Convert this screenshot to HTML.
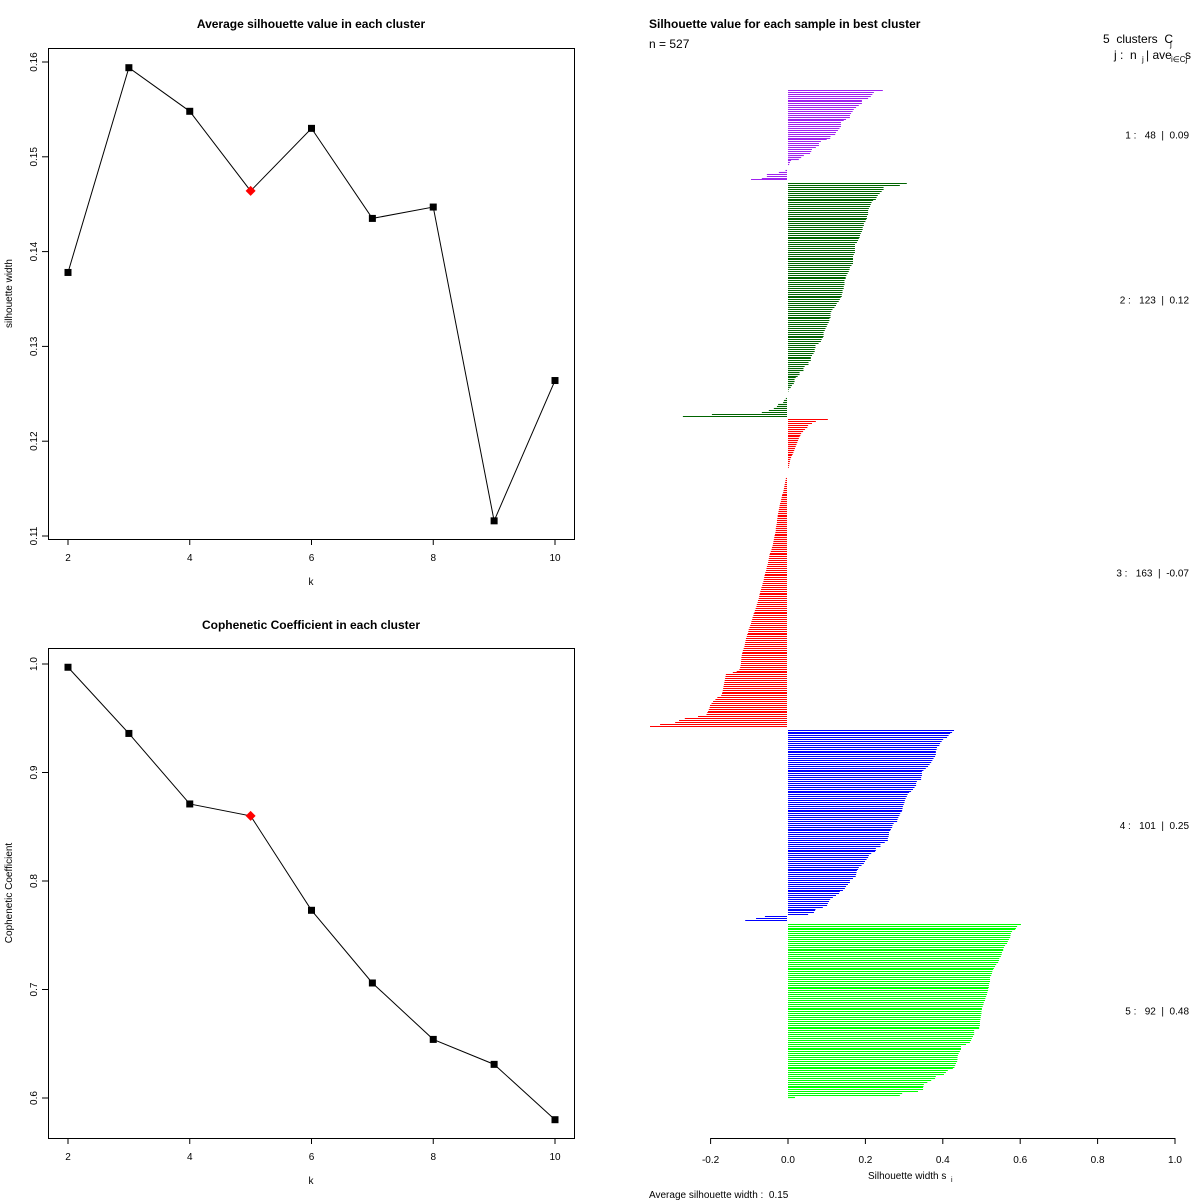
<!DOCTYPE html>
<html><head><meta charset="utf-8"><style>
body{margin:0;background:#fff}
svg{display:block;font-family:"Liberation Sans",Arial,sans-serif}
svg text{white-space:pre}
</style></head><body>
<svg id="chart" width="1200" height="1200" viewBox="0 0 1200 1200" xmlns="http://www.w3.org/2000/svg">
<g id="p1"></g>
<g id="p2"></g>
<g id="p3"></g>
</svg>
<script>
const kValues=[2,3,4,5,6,7,8,9,10];
const silhouetteAvg=[0.1378,0.1594,0.1548,0.1464,0.1530,0.1435,0.1447,0.1116,0.1264];
const copheneticVals=[0.997,0.936,0.871,0.860,0.773,0.706,0.654,0.631,0.580];
const bestK=5;
const xTicksK=[2,4,6,8,10];
const yTicksSil=[0.11,0.12,0.13,0.14,0.15,0.16];
const yTicksCoph=[0.6,0.7,0.8,0.9,1.0];
const silXTicks=[-0.2,0,0.2,0.4,0.6,0.8,1.0];
const clusterColors=["#a020f0","#006400","#ff0000","#0000ff","#00ff00"];
const clusterLabels=["1 :   48  |  0.09","2 :   123  |  0.12","3 :   163  |  -0.07","4 :   101  |  0.25","5 :   92  |  0.48"];
const cluster1=[.245,.222,.218,.214,.207,.191,.191,.191,.183,.176,.170,.167,.163,.160,.160,.150,.144,.137,.137,.137,.133,.129,.124,.122,.110,.109,.100,.085,.080,.080,.072,.062,.060,.057,.041,.034,.028,.008,.005,.003,0,0,-.004,-.021,-.052,-.052,-.065,-.093];
const cluster2=[.307,.289,.247,.247,.242,.237,.232,.229,.227,.220,.216,.214,.212,.209,.207,.207,.207,.204,.204,.202,.200,.196,.196,.193,.193,.191,.188,.186,.185,.183,.181,.178,.173,.173,.173,.173,.173,.170,.168,.168,.168,.168,.168,.164,.160,.159,.157,.154,.151,.149,.149,.146,.146,.146,.144,.144,.141,.141,.139,.139,.136,.134,.131,.126,.124,.120,.115,.112,.110,.110,.110,.107,.107,.105,.102,.100,.097,.095,.092,.092,.092,.090,.087,.085,.079,.071,.071,.069,.069,.066,.062,.059,.059,.059,.053,.053,.043,.040,.040,.030,.030,.025,.020,.017,.017,.015,.010,.007,.002,.001,0,0,0,-.003,-.008,-.010,-.023,-.026,-.034,-.047,-.065,-.194,-.269];
const cluster3=[.103,.072,.062,.052,.050,.044,.039,.034,.032,.030,.028,.026,.024,.022,.020,.018,.016,.014,.012,.010,.008,.006,.005,.004,.003,.002,0,0,0,0,0,
-.003,-.004,-.005,-.006,-.007,-.008,-.009,-.010,-.012,-.013,
-.014,-.015,-.016,-.018,-.019,-.020,-.021,-.022,-.023,-.024,
-.024,-.025,-.026,-.026,-.027,-.028,-.029,-.029,-.030,-.031,
-.032,-.033,-.034,-.035,-.036,-.037,-.039,-.040,-.042,-.044,
-.045,-.046,-.047,-.048,-.049,-.050,-.052,-.053,-.054,-.056,
-.057,-.058,-.059,-.060,-.061,-.063,-.064,-.066,-.067,-.069,
-.070,-.071,-.072,-.073,-.075,-.076,-.078,-.079,-.081,-.083,
-.084,-.086,-.087,-.089,-.090,-.092,-.093,-.095,-.097,-.099,
-.100,-.101,-.103,-.104,-.106,-.107,-.108,-.109,-.110,-.112,
-.114,-.115,-.116,-.117,-.118,-.118,-.119,-.119,-.120,-.121,
-.123,-.130,-.140,-.158,-.159,-.160,-.161,-.162,-.163,-.164,
-.165,-.166,-.167,-.168,-.170,-.180,-.185,-.191,-.195,-.199,
-.200,-.202,-.204,-.206,-.208,-.230,-.264,-.279,-.289,-.328,-.354];
const cluster4=[.429,.424,.419,.415,.411,.401,.397,.393,.391,.385,.384,.382,.382,.382,.380,.376,.373,.370,.366,.362,.356,.350,.346,.346,.346,.344,.344,.333,.331,.331,.327,.323,.318,.313,.309,.307,.304,.302,.301,.299,.297,.296,.295,.294,.290,.288,.285,.283,.282,.273,.270,.269,.266,.264,.261,.261,.260,.258,.258,.250,.239,.239,.227,.227,.225,.215,.209,.207,.203,.199,.196,.190,.183,.181,.178,.177,.176,.175,.168,.160,.160,.155,.150,.147,.142,.134,.132,.124,.116,.109,.106,.103,.101,.090,.071,.070,.067,.052,-.057,-.080,-.108];
const cluster5=[.602,.592,.589,.587,.579,.576,.575,.574,.571,.568,.566,.561,.558,.556,.556,.553,.552,.550,.546,.545,.543,.538,.535,.532,.530,.528,.527,.525,.522,.522,.522,.520,.519,.519,.517,.517,.515,.514,.512,.510,.509,.506,.505,.503,.501,.501,.500,.500,.499,.498,.497,.496,.496,.496,.494,.494,.481,.481,.481,.478,.475,.473,.470,.460,.447,.447,.447,.444,.441,.439,.438,.438,.437,.434,.432,.430,.426,.413,.408,.403,.382,.380,.370,.360,.351,.350,.349,.349,.336,.295,.289,.018];
const clusters=[cluster1,cluster2,cluster3,cluster4,cluster5];

const NS="http://www.w3.org/2000/svg";
function mk(parent,tag,attrs,text){const e=document.createElementNS(NS,tag);for(const k in attrs)e.setAttribute(k,attrs[k]);if(text!==undefined)e.textContent=text;parent.appendChild(e);return e;}

function linePanel(g,vals,yTicks,yMin,yMax,box,title,yTitle,prefix,dec){
  const xs=k=>68+(k-2)*(555-68)/8;
  const ys=v=>box.yMinPx+(v-yMin)/(yMax-yMin)*(box.yMaxPx-box.yMinPx);
  let t=mk(g,'text',{x:311,y:box.titleY,'text-anchor':'middle','font-size':12,'font-weight':'bold'},title);
  
  
  let r=mk(g,'rect',{x:48.5,y:box.top+0.5,width:526,height:box.bottom-box.top,fill:'none',stroke:'#000','stroke-width':1});
  
  
  xTicksK.forEach(k=>{
    const l=mk(g,'line',{x1:xs(k),x2:xs(k),y1:box.bottom,y2:box.bottom+6,stroke:'#000'});
    
    
    const tx=mk(g,'text',{x:xs(k),y:box.bottom+22,'text-anchor':'middle','font-size':10},String(k));
    
    
  });
  yTicks.forEach(v=>{
    const y=ys(v);
    const l=mk(g,'line',{x1:42,x2:48,y1:y,y2:y,stroke:'#000'});
    
    
    const tx=mk(g,'text',{x:37,y:y,'text-anchor':'middle','font-size':10,transform:`rotate(-90 37 ${y})`},v.toFixed(dec));
    
    
  });
  const xl=mk(g,'text',{x:311,y:box.bottom+46,'text-anchor':'middle','font-size':10},'k');
  
  
  const cy=(box.top+box.bottom)/2;
  const yl=mk(g,'text',{x:12,y:cy,'text-anchor':'middle','font-size':10,transform:`rotate(-90 12 ${cy})`},yTitle);
  
  
  const pts=kValues.map((k,i)=>xs(k)+','+ys(vals[i])).join(' ');
  const pl=mk(g,'polyline',{points:pts,fill:'none',stroke:'#000','stroke-width':1});
  
  
  kValues.forEach((k,i)=>{
    const x=xs(k),y=ys(vals[i]);
    let m;
    if(k===bestK){
      m=mk(g,'polygon',{points:`${x},${y-5} ${x+5},${y} ${x},${y+5} ${x-5},${y}`,fill:'#ff0000'});
      
    }else{
      m=mk(g,'rect',{x:x-3.5,y:y-3.5,width:7,height:7,fill:'#000'});
      
    }
    
  });
}
linePanel(document.getElementById('p1'),silhouetteAvg,yTicksSil,0.11,0.16,{yMinPx:536,yMaxPx:62,top:48,bottom:539,titleY:28},'Average silhouette value in each cluster','silhouette width','sil',2);
linePanel(document.getElementById('p2'),copheneticVals,yTicksCoph,0.6,1.0,{yMinPx:1098,yMaxPx:664,top:648,bottom:1138,titleY:629},'Cophenetic Coefficient in each cluster','Cophenetic Coefficient','coph',1);
</script>
<script>
(function(){
  const g=document.getElementById('p3');
  const sx=v=>788+v*387;
  const total=clusters.reduce((a,c)=>a+c.length,0)+clusters.length-1;
  const y0=90,y1=1097,step=(y1-y0)/(total-1);
  let row=0;
  clusters.forEach((c,ci)=>{
    const grp=mk(g,'g',{});
    
    
    const startRow=row;
    c.forEach(v=>{
      const y=Math.round(y0+row*step)+0.5;
      if(v!==0){
        const x0=v>=0?sx(0):sx(0)-1;
        const b=mk(grp,'line',{x1:x0,x2:x0+v*387,y1:y,y2:y,stroke:clusterColors[ci],'stroke-width':1.1});
        
        
      }
      row++;
    });
    const midY=y0+((startRow+row-1)/2)*step;
    const lab=mk(g,'text',{x:1189,y:midY+4,'text-anchor':'end','font-size':10},clusterLabels[ci]);
    
    
    row++;
  });
  const ax=mk(g,'line',{x1:sx(-0.2),x2:sx(1.0),y1:1138.5,y2:1138.5,stroke:'#000'});
  
  
  silXTicks.forEach(v=>{
    const t=mk(g,'line',{x1:sx(v),x2:sx(v),y1:1138,y2:1144,stroke:'#000'});
    
    
    const l=mk(g,'text',{x:sx(v),y:1163,'text-anchor':'middle','font-size':10},v.toFixed(1));
    
    
  });
  const texts=[
    ['silhouette-title',649,28,'start',12,'bold','Silhouette value for each sample in best cluster'],
    ['sample-count',649,48,'start',12,'normal','n = 527'],
    ['average-silhouette-width',649,1198,'start',10,'normal','Average silhouette width :  0.15'],
    ['clusters-header',1103,43,'start',12,'normal','5  clusters  C']
  ];
  texts.forEach(a=>{
    const t=mk(g,'text',{x:a[1],y:a[2],'text-anchor':a[3],'font-size':a[4],'font-weight':a[5]},a[6]);
    
    
  });
  const sub=mk(g,'text',{x:1170,y:47,'font-size':8},'j');
  
  
  const h2=mk(g,'text',{x:1114,y:59,'font-size':12},'j :  n');
  
  
  const h3=mk(g,'text',{x:1142,y:62,'font-size':8},'j');
  
  
  const h4=mk(g,'text',{x:1146,y:59,'font-size':12},'| ave');
  
  
  const h5=mk(g,'text',{x:1171,y:62,'font-size':8},'i∈Cj');
  
  
  const h6=mk(g,'text',{x:1185,y:59,'font-size':12},'s');
  
  
  const xt=mk(g,'text',{x:868,y:1179,'font-size':10},'Silhouette width s');
  
  
  const xs2=mk(g,'text',{x:951,y:1182,'font-size':7},'i');
  
  
})();
</script>
</body></html>
